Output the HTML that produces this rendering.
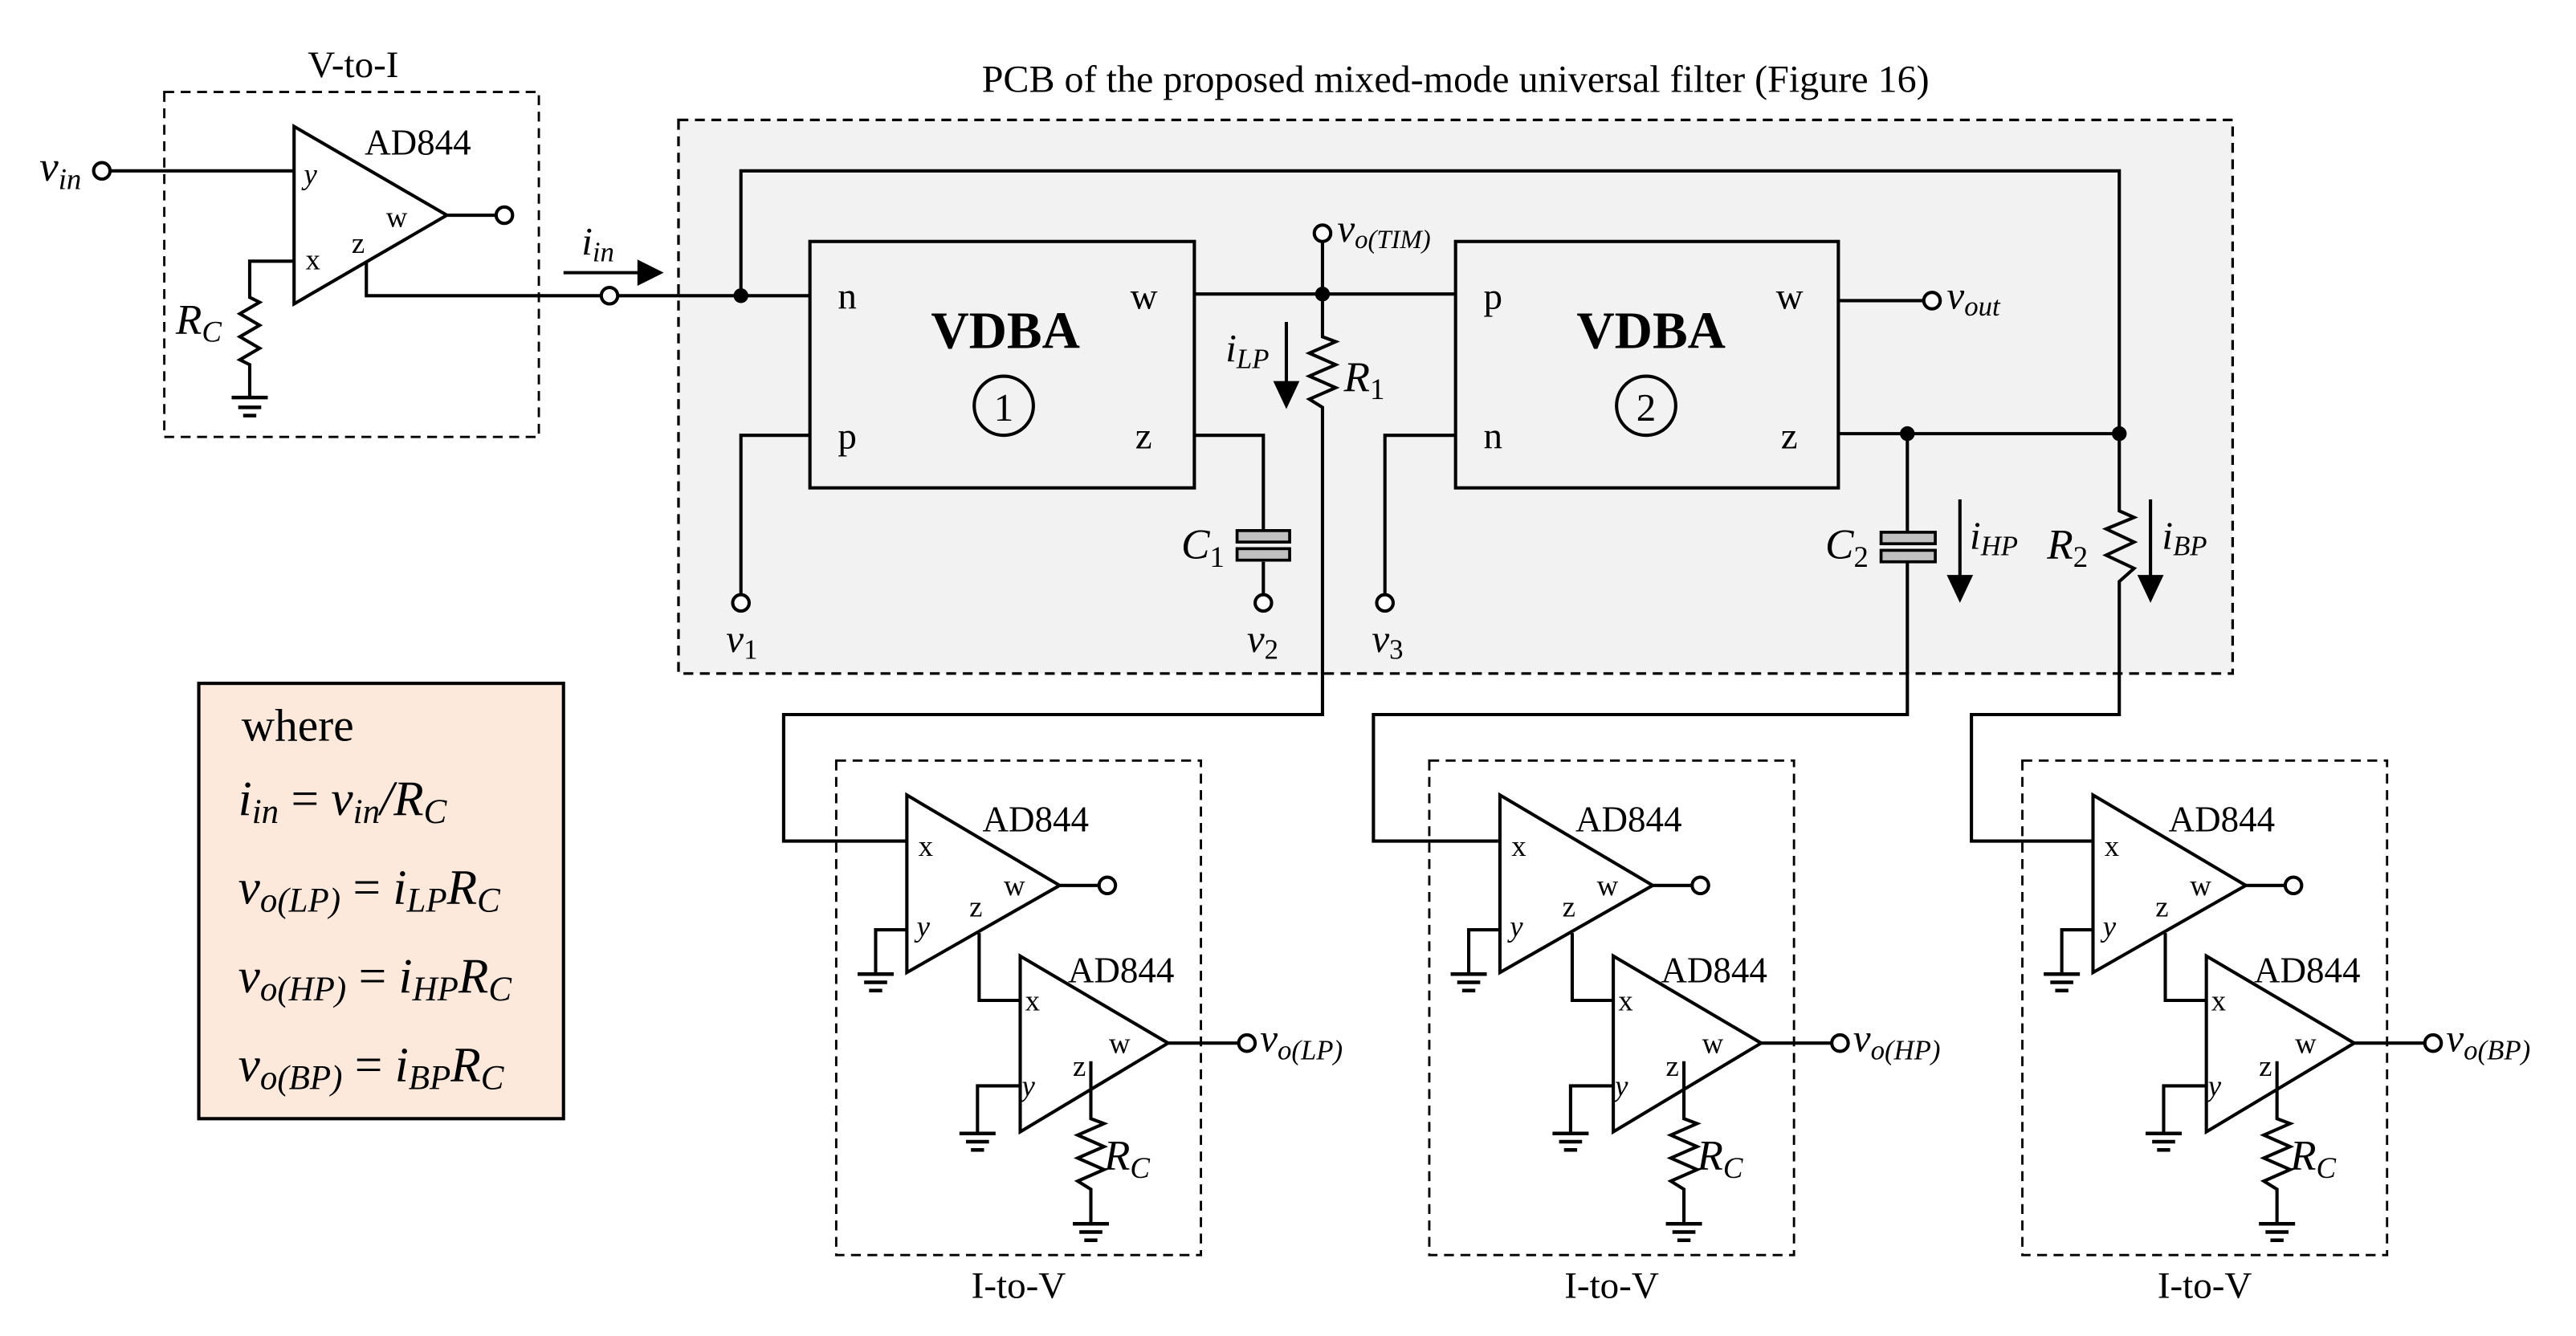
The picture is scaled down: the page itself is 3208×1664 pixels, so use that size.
<!DOCTYPE html>
<html><head><meta charset="utf-8"><style>
html,body{margin:0;padding:0;background:#fff;}
svg{display:block;}
text{font-family:"Liberation Serif",serif;fill:#000;}
.it{font-style:italic;}
</style></head><body>
<svg width="3208" height="1664" viewBox="0 0 1568 813.3" preserveAspectRatio="none" xmlns="http://www.w3.org/2000/svg">
<g fill="none" stroke="#000" stroke-width="2">
<rect x="413" y="73" width="946" height="337" fill="#f2f2f2" stroke-width="1.6" stroke-dasharray="6,4"/>
<rect x="100" y="56" width="228" height="210" stroke-width="1.4" stroke-dasharray="6,4"/>
<polygon points="179,77 179,185 272,131"/>
<polyline points="67,104 179,104"/>
<polyline points="272,131 302,131"/>
<polyline points="179,159 152,159 152,181 158,184 146,191 158,198 146,205 158,212 146,219 152,222 152,242"/>
<line x1="141" y1="242" x2="163" y2="242" stroke-width="2.2"/>
<line x1="145" y1="248" x2="159" y2="248" stroke-width="2.2"/>
<line x1="148" y1="253" x2="156" y2="253" stroke-width="2.2"/>
<polyline points="223,159 223,180 366,180"/>
<line x1="376" y1="180" x2="493" y2="180"/>
<line x1="343" y1="166" x2="390" y2="166"/>
<rect x="493" y="147" width="234" height="150"/>
<rect x="886" y="147" width="233" height="150"/>
<circle cx="611" cy="247" r="18"/>
<circle cx="1002" cy="247" r="18"/>
<polyline points="451,180 451,104 1290,104 1290,264"/>
<polyline points="493,265 451,265 451,362"/>
<line x1="727" y1="179" x2="886" y2="179"/>
<line x1="805" y1="147" x2="805" y2="179"/>
<polyline points="805,179 805,205 813,208 797,215 813,222 797,229 813,236 797,243 805,248 805,435 477,435 477,512 552,512"/>
<polyline points="727,265 769,265 769,324"/>
<line x1="769" y1="342" x2="769" y2="362"/>
<polyline points="886,265 843,265 843,362"/>
<line x1="1119" y1="183" x2="1171" y2="183"/>
<line x1="1119" y1="264" x2="1290" y2="264"/>
<line x1="1161" y1="264" x2="1161" y2="324"/>
<polyline points="1161,342 1161,435 836,435 836,512 912,512"/>
<polyline points="1290,264 1290,311 1299,315 1282,322 1299,330 1282,338 1299,346 1290,354 1290,435 1200,435 1200,512 1273,512"/>
<line x1="783" y1="196" x2="783" y2="234"/>
<line x1="1193" y1="304" x2="1193" y2="352"/>
<line x1="1309" y1="304" x2="1309" y2="352"/>
<rect x="121" y="416" width="222" height="265" fill="#fce9dc"/>
</g>
<g fill="#c0c0c0" stroke="#000" stroke-width="1.8">
<rect x="753" y="323" width="32" height="7"/>
<rect x="753" y="334" width="32" height="7"/>
<rect x="1145" y="324" width="33" height="7"/>
<rect x="1145" y="335" width="33" height="7"/>
</g>
<g fill="#000">
<polygon points="388,158 404,166 388,174"/>
<polygon points="775,232 791,232 783,249"/>
<polygon points="1185,350 1201,350 1193,367"/>
<polygon points="1301,350 1317,350 1309,367"/>
<circle cx="451" cy="180" r="4.5"/>
<circle cx="805" cy="179" r="4.5"/>
<circle cx="1161" cy="264" r="4.5"/>
<circle cx="1290" cy="264" r="4.5"/>
</g>
<g fill="#fff" stroke="#000" stroke-width="2">
<circle cx="62" cy="104" r="5"/>
<circle cx="307" cy="131" r="5"/>
<circle cx="371" cy="180" r="5"/>
<circle cx="451" cy="367" r="5"/>
<circle cx="769" cy="367" r="5"/>
<circle cx="843" cy="367" r="5"/>
<circle cx="805" cy="142" r="5"/>
<circle cx="1176" cy="183" r="5"/>
</g>

<g>
<g fill="none" stroke="#000" stroke-width="2">
<rect x="509" y="463" width="222" height="301" stroke-width="1.4" stroke-dasharray="6,4"/>
<polygon points="552,484 552,592 645,539"/>
<line x1="645" y1="539" x2="669" y2="539"/>
<polyline points="552,566 533,566 533,593"/>
<polyline points="596,568 596,609 621,609"/>
<polygon points="621,582 621,689 711,635"/>
<line x1="711" y1="635" x2="754" y2="635"/>
<polyline points="621,661 595,661 595,690"/>
<polyline points="664,646 664,681 672,684 656,691 672,698 656,705 672,712 656,719 664,724 664,745"/>
<line x1="522" y1="593" x2="544" y2="593" stroke-width="2.2"/><line x1="526" y1="598" x2="540" y2="598" stroke-width="2.2"/><line x1="529" y1="603" x2="537" y2="603" stroke-width="2.2"/>
<line x1="584" y1="690" x2="606" y2="690" stroke-width="2.2"/><line x1="588" y1="695" x2="602" y2="695" stroke-width="2.2"/><line x1="591" y1="700" x2="599" y2="700" stroke-width="2.2"/>
<line x1="653" y1="745" x2="675" y2="745" stroke-width="2.2"/><line x1="657" y1="750" x2="671" y2="750" stroke-width="2.2"/><line x1="660" y1="755" x2="668" y2="755" stroke-width="2.2"/>
<circle cx="674" cy="539" r="5" fill="#fff"/>
<circle cx="759" cy="635" r="5" fill="#fff"/>
</g>
<text x="598" y="506" font-size="22">AD844</text>
<text x="650" y="598" font-size="22">AD844</text>
<text x="559" y="521" font-size="18">x</text>
<text x="558" y="570" font-size="18" class="it">y</text>
<text x="590" y="558" font-size="18">z</text>
<text x="611" y="545" font-size="18">w</text>
<text x="624" y="615" font-size="18">x</text>
<text x="622" y="667" font-size="18" class="it">y</text>
<text x="653" y="655" font-size="18">z</text>
<text x="675" y="641" font-size="18">w</text>
<text x="672" y="712" font-size="26" class="it">R<tspan font-size="18" dy="5">C</tspan></text>
<text x="620" y="790" font-size="23" text-anchor="middle">I-to-V</text>
<text x="767" y="640" font-size="24" class="it">v<tspan font-size="17" dy="5">o(LP)</tspan></text>
</g>
<g transform="translate(361,0)">
<g fill="none" stroke="#000" stroke-width="2">
<rect x="509" y="463" width="222" height="301" stroke-width="1.4" stroke-dasharray="6,4"/>
<polygon points="552,484 552,592 645,539"/>
<line x1="645" y1="539" x2="669" y2="539"/>
<polyline points="552,566 533,566 533,593"/>
<polyline points="596,568 596,609 621,609"/>
<polygon points="621,582 621,689 711,635"/>
<line x1="711" y1="635" x2="754" y2="635"/>
<polyline points="621,661 595,661 595,690"/>
<polyline points="664,646 664,681 672,684 656,691 672,698 656,705 672,712 656,719 664,724 664,745"/>
<line x1="522" y1="593" x2="544" y2="593" stroke-width="2.2"/><line x1="526" y1="598" x2="540" y2="598" stroke-width="2.2"/><line x1="529" y1="603" x2="537" y2="603" stroke-width="2.2"/>
<line x1="584" y1="690" x2="606" y2="690" stroke-width="2.2"/><line x1="588" y1="695" x2="602" y2="695" stroke-width="2.2"/><line x1="591" y1="700" x2="599" y2="700" stroke-width="2.2"/>
<line x1="653" y1="745" x2="675" y2="745" stroke-width="2.2"/><line x1="657" y1="750" x2="671" y2="750" stroke-width="2.2"/><line x1="660" y1="755" x2="668" y2="755" stroke-width="2.2"/>
<circle cx="674" cy="539" r="5" fill="#fff"/>
<circle cx="759" cy="635" r="5" fill="#fff"/>
</g>
<text x="598" y="506" font-size="22">AD844</text>
<text x="650" y="598" font-size="22">AD844</text>
<text x="559" y="521" font-size="18">x</text>
<text x="558" y="570" font-size="18" class="it">y</text>
<text x="590" y="558" font-size="18">z</text>
<text x="611" y="545" font-size="18">w</text>
<text x="624" y="615" font-size="18">x</text>
<text x="622" y="667" font-size="18" class="it">y</text>
<text x="653" y="655" font-size="18">z</text>
<text x="675" y="641" font-size="18">w</text>
<text x="672" y="712" font-size="26" class="it">R<tspan font-size="18" dy="5">C</tspan></text>
<text x="620" y="790" font-size="23" text-anchor="middle">I-to-V</text>
<text x="767" y="640" font-size="24" class="it">v<tspan font-size="17" dy="5">o(HP)</tspan></text>
</g>
<g transform="translate(722,0)">
<g fill="none" stroke="#000" stroke-width="2">
<rect x="509" y="463" width="222" height="301" stroke-width="1.4" stroke-dasharray="6,4"/>
<polygon points="552,484 552,592 645,539"/>
<line x1="645" y1="539" x2="669" y2="539"/>
<polyline points="552,566 533,566 533,593"/>
<polyline points="596,568 596,609 621,609"/>
<polygon points="621,582 621,689 711,635"/>
<line x1="711" y1="635" x2="754" y2="635"/>
<polyline points="621,661 595,661 595,690"/>
<polyline points="664,646 664,681 672,684 656,691 672,698 656,705 672,712 656,719 664,724 664,745"/>
<line x1="522" y1="593" x2="544" y2="593" stroke-width="2.2"/><line x1="526" y1="598" x2="540" y2="598" stroke-width="2.2"/><line x1="529" y1="603" x2="537" y2="603" stroke-width="2.2"/>
<line x1="584" y1="690" x2="606" y2="690" stroke-width="2.2"/><line x1="588" y1="695" x2="602" y2="695" stroke-width="2.2"/><line x1="591" y1="700" x2="599" y2="700" stroke-width="2.2"/>
<line x1="653" y1="745" x2="675" y2="745" stroke-width="2.2"/><line x1="657" y1="750" x2="671" y2="750" stroke-width="2.2"/><line x1="660" y1="755" x2="668" y2="755" stroke-width="2.2"/>
<circle cx="674" cy="539" r="5" fill="#fff"/>
<circle cx="759" cy="635" r="5" fill="#fff"/>
</g>
<text x="598" y="506" font-size="22">AD844</text>
<text x="650" y="598" font-size="22">AD844</text>
<text x="559" y="521" font-size="18">x</text>
<text x="558" y="570" font-size="18" class="it">y</text>
<text x="590" y="558" font-size="18">z</text>
<text x="611" y="545" font-size="18">w</text>
<text x="624" y="615" font-size="18">x</text>
<text x="622" y="667" font-size="18" class="it">y</text>
<text x="653" y="655" font-size="18">z</text>
<text x="675" y="641" font-size="18">w</text>
<text x="672" y="712" font-size="26" class="it">R<tspan font-size="18" dy="5">C</tspan></text>
<text x="620" y="790" font-size="23" text-anchor="middle">I-to-V</text>
<text x="767" y="640" font-size="24" class="it">v<tspan font-size="17" dy="5">o(BP)</tspan></text>
</g>

<text x="215" y="47" font-size="23" text-anchor="middle">V-to-I</text>
<text x="886" y="56" font-size="23.5" text-anchor="middle">PCB of the proposed mixed-mode universal filter (Figure 16)</text>
<text x="222" y="94" font-size="22">AD844</text>
<text x="185" y="112" font-size="18" class="it">y</text>
<text x="186" y="164" font-size="18">x</text>
<text x="214" y="154" font-size="18">z</text>
<text x="235" y="138" font-size="18">w</text>
<text x="24" y="110" font-size="26" class="it">v<tspan font-size="18" dy="5">in</tspan></text>
<text x="107" y="203" font-size="26" class="it">R<tspan font-size="18" dy="5">C</tspan></text>
<text x="354" y="155" font-size="24" class="it">i<tspan font-size="17" dy="4">in</tspan></text>

<text x="510" y="188" font-size="23">n</text>
<text x="510" y="273" font-size="23">p</text>
<text x="688" y="188" font-size="23">w</text>
<text x="691" y="273" font-size="23">z</text>
<text x="612" y="212" font-size="32" font-weight="bold" text-anchor="middle">VDBA</text>
<text x="611" y="256" font-size="24" text-anchor="middle">1</text>

<text x="903" y="188" font-size="23">p</text>
<text x="903" y="273" font-size="23">n</text>
<text x="1081" y="188" font-size="23">w</text>
<text x="1084" y="273" font-size="23">z</text>
<text x="1005" y="212" font-size="32" font-weight="bold" text-anchor="middle">VDBA</text>
<text x="1002" y="256" font-size="24" text-anchor="middle">2</text>

<text x="814" y="147" font-size="24" class="it">v<tspan font-size="16" dy="4">o(TIM)</tspan></text>
<text x="1185" y="188" font-size="24" class="it">v<tspan font-size="17" dy="4">out</tspan></text>
<text x="746" y="220" font-size="24" class="it">i<tspan font-size="17" dy="4">LP</tspan></text>
<text x="818" y="238" font-size="26" class="it">R<tspan font-size="18" dy="5" font-style="normal">1</tspan></text>
<text x="719" y="340" font-size="26" class="it">C<tspan font-size="18" dy="5" font-style="normal">1</tspan></text>
<text x="1111" y="340" font-size="26" class="it">C<tspan font-size="18" dy="5" font-style="normal">2</tspan></text>
<text x="1246" y="340" font-size="26" class="it">R<tspan font-size="18" dy="5" font-style="normal">2</tspan></text>
<text x="1199" y="334" font-size="24" class="it">i<tspan font-size="17" dy="4">HP</tspan></text>
<text x="1316" y="334" font-size="24" class="it">i<tspan font-size="17" dy="4">BP</tspan></text>
<text x="442" y="397" font-size="24" class="it">v<tspan font-size="17" dy="4" font-style="normal">1</tspan></text>
<text x="759" y="397" font-size="24" class="it">v<tspan font-size="17" dy="4" font-style="normal">2</tspan></text>
<text x="835" y="397" font-size="24" class="it">v<tspan font-size="17" dy="4" font-style="normal">3</tspan></text>

<text x="147" y="451" font-size="28">where</text>
<text x="145" y="496" font-size="30" class="it">i<tspan font-size="21" dy="5">in</tspan><tspan dy="-5" font-style="normal"> = </tspan>v<tspan font-size="21" dy="5">in</tspan><tspan dy="-5">/R</tspan><tspan font-size="21" dy="5">C</tspan></text>
<text x="145" y="550" font-size="30" class="it">v<tspan font-size="21" dy="5">o(LP)</tspan><tspan dy="-5" font-style="normal"> = </tspan>i<tspan font-size="21" dy="5">LP</tspan><tspan dy="-5">R</tspan><tspan font-size="21" dy="5">C</tspan></text>
<text x="145" y="604" font-size="30" class="it">v<tspan font-size="21" dy="5">o(HP)</tspan><tspan dy="-5" font-style="normal"> = </tspan>i<tspan font-size="21" dy="5">HP</tspan><tspan dy="-5">R</tspan><tspan font-size="21" dy="5">C</tspan></text>
<text x="145" y="658" font-size="30" class="it">v<tspan font-size="21" dy="5">o(BP)</tspan><tspan dy="-5" font-style="normal"> = </tspan>i<tspan font-size="21" dy="5">BP</tspan><tspan dy="-5">R</tspan><tspan font-size="21" dy="5">C</tspan></text>
</svg>
</body></html>
